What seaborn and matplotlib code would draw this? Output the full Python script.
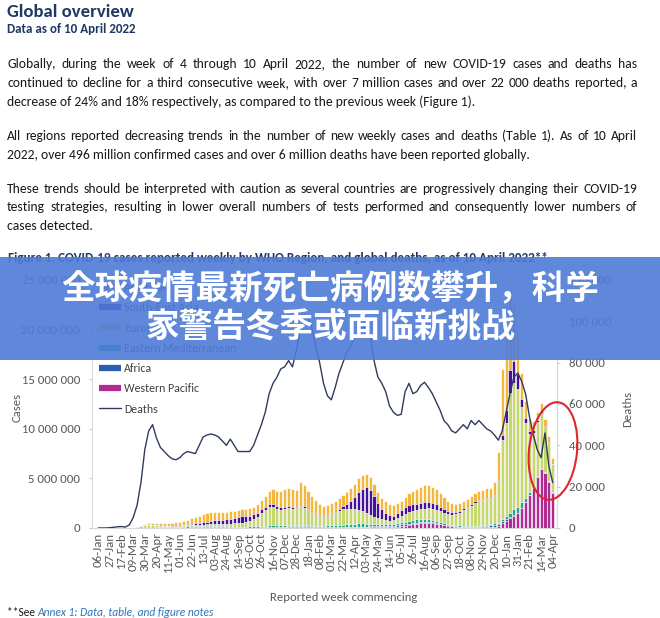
import numpy as np
import pandas as pd
import matplotlib
matplotlib.use("Agg")
import matplotlib.pyplot as plt
import seaborn as sns
from matplotlib.patches import Ellipse, Rectangle
from matplotlib.lines import Line2D
from matplotlib.transforms import IdentityTransform
from matplotlib import font_manager as fm
from matplotlib.ticker import FuncFormatter

# ---------------- data (weekly, 06-Jan-2020 .. 04-Apr-2022), thousands ----------------
week_start = pd.date_range("2020-01-06", "2022-04-04", freq="7D")

tick_labels = ["06-Jan", "27-Jan", "17-Feb", "09-Mar", "30-Mar", "20-Apr", "11-May", "01-Jun",
               "22-Jun", "13-Jul", "03-Aug", "24-Aug", "14-Sep", "05-Oct", "26-Oct", "16-Nov",
               "07-Dec", "28-Dec", "18-Jan", "08-Feb", "01-Mar", "22-Mar", "12-Apr", "03-May",
               "24-May", "14-Jun", "05-Jul", "26-Jul", "16-Aug", "06-Sep", "27-Sep", "18-Oct",
               "08-Nov", "29-Nov", "20-Dec", "10-Jan", "31-Jan", "21-Feb", "14-Mar", "04-Apr"]

americas = [0, 0, 0, 0, 0, 0, 0, 0, 0.1, 1,
            8, 40, 120, 190, 210, 220, 220, 220, 230, 260,
            300, 330, 360, 450, 560, 650, 720, 800, 850, 850,
            820, 820, 780, 740, 720, 700, 700, 720, 720, 740,
            780, 840, 950, 1100, 1350, 1500, 1500, 1600, 1800, 1900,
            1800, 1750, 2300, 2200, 1900, 1600, 1400, 1150, 1000, 1000,
            1000, 1050, 1100, 1200, 1250, 1300, 1350, 1400, 1350, 1300,
            1250, 1200, 1150, 1100, 1150, 1150, 1050, 1000, 950, 1000,
            1150, 1350, 1500, 1650, 1700, 1700, 1650, 1550, 1400, 1250,
            1050, 900, 800, 750, 750, 750, 800, 850, 850, 900,
            1000, 1050, 1300, 2800, 6600, 7500, 7600, 6000, 4200, 2600,
            1700, 1200, 950, 850, 800, 700, 650, 600]

south_east_asia = [0, 0, 0, 0, 0, 0, 0, 0, 0.1, 0.3,
                   0.8, 2, 4, 6, 9, 12, 16, 22, 30, 38,
                   50, 65, 80, 100, 120, 150, 180, 230, 290, 350,
                   400, 440, 460, 490, 530, 590, 640, 650, 590, 540,
                   490, 420, 370, 340, 320, 300, 300, 280, 250, 210,
                   180, 165, 150, 130, 115, 105, 100, 95, 100, 115,
                   125, 145, 190, 290, 450, 750, 1200, 1750, 2250, 2600,
                   2550, 2100, 1500, 1100, 750, 520, 450, 500, 600, 700,
                   750, 720, 680, 650, 620, 600, 580, 520, 450, 380,
                   320, 260, 210, 180, 160, 140, 130, 120, 110, 105,
                   100, 95, 100, 150, 500, 1300, 2300, 2200, 1500, 800,
                   500, 350, 250, 180, 130, 100, 80, 60]

europe = [0, 0, 0, 0, 0, 0, 0, 1, 5, 25,
          80, 170, 230, 240, 230, 210, 180, 160, 140, 130,
          125, 120, 115, 120, 125, 130, 130, 135, 145, 160,
          170, 190, 210, 240, 270, 310, 360, 400, 450, 560,
          720, 950, 1300, 1600, 1850, 1800, 1650, 1500, 1550, 1650,
          1600, 1550, 1850, 1700, 1450, 1250, 1100, 950, 900, 950,
          1100, 1200, 1400, 1550, 1600, 1550, 1500, 1400, 1250, 1100,
          900, 750, 600, 500, 420, 380, 380, 480, 620, 750,
          850, 870, 900, 950, 1050, 1100, 1100, 1100, 1050, 1000,
          950, 1000, 1100, 1300, 1600, 1800, 2050, 2350, 2500, 2600,
          2600, 2500, 2800, 4200, 8000, 9400, 12100, 12750, 11900, 9600,
          7500, 5800, 5350, 5400, 5600, 4600, 3850, 2850]

eastern_mediterranean = [0, 0, 0, 0, 0, 0, 0, 0, 2, 5,
                         10, 18, 25, 30, 35, 40, 45, 50, 60, 75,
                         90, 100, 115, 125, 125, 120, 115, 110, 105, 95,
                         90, 85, 80, 80, 80, 85, 90, 95, 100, 110,
                         120, 130, 140, 160, 185, 210, 215, 200, 180, 160,
                         145, 135, 130, 130, 125, 120, 120, 130, 145, 165,
                         180, 195, 215, 240, 260, 290, 320, 330, 320, 290,
                         250, 210, 190, 175, 165, 165, 175, 190, 210, 240,
                         280, 320, 340, 340, 320, 300, 280, 250, 220, 190,
                         160, 140, 120, 110, 105, 100, 95, 90, 90, 90,
                         95, 100, 110, 140, 250, 330, 430, 550, 600, 550,
                         430, 320, 230, 170, 130, 110, 100, 80]

africa = [0, 0, 0, 0, 0, 0, 0, 0, 0, 0.1,
          0.5, 1.5, 3, 4, 5, 6, 8, 10, 12, 15,
          20, 25, 30, 40, 50, 60, 75, 85, 95, 95,
          90, 80, 70, 55, 45, 40, 35, 30, 28, 28,
          30, 32, 35, 38, 40, 45, 55, 65, 80, 95,
          110, 125, 140, 145, 125, 100, 80, 65, 55, 50,
          45, 42, 40, 40, 38, 35, 32, 30, 28, 28,
          30, 35, 42, 55, 70, 95, 130, 160, 175, 170,
          150, 130, 115, 105, 95, 85, 75, 60, 45, 35,
          28, 22, 18, 15, 14, 13, 13, 14, 20, 50,
          110, 180, 230, 220, 160, 110, 80, 65, 50, 40,
          30, 22, 18, 15, 12, 10, 9, 8]

western_pacific = [0, 0, 2, 12, 25, 32, 10, 4, 3, 3,
                   5, 6, 8, 9, 8, 6, 4, 3, 3, 3,
                   4, 4, 4, 5, 6, 7, 9, 12, 18, 25,
                   30, 28, 25, 22, 20, 20, 18, 18, 17, 17,
                   17, 18, 20, 22, 28, 36, 45, 50, 55, 62,
                   65, 65, 70, 72, 65, 55, 45, 40, 36, 38,
                   42, 45, 50, 52, 58, 68, 80, 95, 110, 120,
                   130, 140, 145, 135, 120, 115, 120, 150, 190, 230,
                   300, 360, 420, 470, 500, 500, 480, 440, 380, 300,
                   240, 190, 150, 130, 120, 110, 110, 115, 120, 120,
                   115, 110, 120, 160, 500, 750, 1000, 1250, 1500, 2000,
                   2600, 3300, 4000, 5100, 5900, 5500, 4600, 3500]

deaths = [0, 0, 0.02, 0.15, 0.35, 0.6, 0.7, 0.45, 1.5, 5,
          11, 22, 38, 47, 50, 43.5, 39, 37, 35, 33.5,
          33, 34, 36, 37, 36.5, 36, 40, 44, 45, 45.5,
          45, 44, 42, 40, 43, 40, 37, 37, 37, 37,
          40, 45, 50, 56, 65, 70, 73, 77, 78, 81,
          78, 86, 95, 100, 102, 97, 88, 80, 70, 64,
          62, 68, 75, 80, 85, 88, 92, 95, 97, 97,
          93, 81, 73, 70, 66, 59, 56, 54.5, 55, 66,
          70, 65, 66, 69, 70.5, 68, 65, 61, 57, 52,
          50, 47, 46, 48, 50, 48, 52, 50, 52, 50,
          48, 47, 45, 42.5, 47, 56, 65, 73, 75, 71,
          65, 54, 45, 38, 34, 46, 30, 22]

regions = ["Americas", "South-East Asia", "Europe", "Eastern Mediterranean", "Africa", "Western Pacific"]
colors = {"Americas": "#F4B73E", "South-East Asia": "#44129A", "Europe": "#C5D86B",
          "Eastern Mediterranean": "#25A38C", "Africa": "#2B5CB6", "Western Pacific": "#B02A91"}
death_color = "#2F3B5E"

df = pd.DataFrame({"week": week_start.strftime("%Y-%m-%d"),
                   "Americas": np.array(americas) * 1000,
                   "South-East Asia": np.array(south_east_asia) * 1000,
                   "Europe": np.array(europe) * 1000,
                   "Eastern Mediterranean": np.array(eastern_mediterranean) * 1000,
                   "Africa": np.array(africa) * 1000,
                   "Western Pacific": np.array(western_pacific) * 1000,
                   "Deaths": np.array(deaths) * 1000})
df["pos"] = np.arange(len(df))
stack_order = ["Western Pacific", "Africa", "Eastern Mediterranean", "Europe", "South-East Asia", "Americas"]
cum = 0
for r in stack_order:
    cum = cum + df[r]
    df["cum_" + r] = cum

# ---------------- styling / fonts ----------------
sns.set_style("white")
avail = {f.name for f in fm.fontManager.ttflist}


def pick(names):
    for n in names:
        if n in avail:
            return n
    return "DejaVu Sans"


FONT = pick(["Carlito", "Lato", "Open Sans", "DejaVu Sans"])
CJK = pick(["Noto Sans CJK SC", "Noto Sans CJK JP"])
plt.rcParams["font.family"] = [FONT, "DejaVu Sans"]

W, H = 660, 618
fig = plt.figure(figsize=(W / 100, H / 100), dpi=100)
fig.patch.set_facecolor("white")
renderer = fig.canvas.get_renderer()


def px(x, y):
    return x / W, 1 - y / H


def text_width(s, size, **kw):
    t = fig.text(0, 0, s, fontsize=size, **kw)
    w = t.get_window_extent(renderer).width
    t.remove()
    return w


def fit_size(s, target, **kw):
    return 10 * target / text_width(s, 10, **kw)


# ---------------- header text ----------------
navy = "#1F3864"
fig.text(*px(7, 17), "Global overview", fontsize=fit_size("Global overview", 126, weight="bold"),
         weight="bold", color=navy, va="baseline")
fig.text(*px(7, 33), "Data as of 10 April 2022",
         fontsize=fit_size("Data as of 10 April 2022", 128, weight="bold"),
         weight="bold", color=navy, va="baseline")

paragraphs = [
    (["Globally, during the week of 4 through 10 April 2022, the number of new COVID-19 cases and deaths has",
      "continued to decline for a third consecutive week, with over 7 million cases and over 22 000 deaths reported, a",
      "decrease of 24% and 18% respectively, as compared to the previous week (Figure 1)."], [68, 87, 106]),
    (["All regions reported decreasing trends in the number of new weekly cases and deaths (Table 1). As of 10 April",
      "2022, over 496 million confirmed cases and over 6 million deaths have been reported globally."], [140, 159]),
    (["These trends should be interpreted with caution as several countries are progressively changing their COVID-19",
      "testing strategies, resulting in lower overall numbers of tests performed and consequently lower numbers of",
      "cases detected."], [193, 211, 230]),
]
X0, X1 = 7, 637
just_lines = [l for lines, _ in paragraphs for l in lines[:-1]]
body_size = min(10 * (X1 - X0) * 0.985 / text_width(l, 10) for l in just_lines)
body_color = "#1A1A1A"

for lines, ys in paragraphs:
    for k, (line, y) in enumerate(zip(lines, ys)):
        if k == len(lines) - 1:
            fig.text(*px(X0, y), line, fontsize=body_size, color=body_color, va="baseline")
        else:
            words = line.split(" ")
            ws = [text_width(w, body_size) for w in words]
            gap = (X1 - X0 - sum(ws)) / (len(words) - 1)
            x = X0
            for w, wd in zip(words, ws):
                fig.text(*px(x, y), w, fontsize=body_size, color=body_color, va="baseline")
                x += wd + gap

cap = "Figure 1. COVID-19 cases reported weekly by WHO Region, and global deaths, as of 10 April 2022**"
fig.text(*px(8, 262), cap, fontsize=fit_size(cap, 537, weight="bold"), weight="bold", color=navy,
         va="baseline")

# ---------------- chart ----------------
ax = fig.add_axes([92 / W, (H - 528) / H, 465 / W, 248 / H])
draw_order = ["Americas", "South-East Asia", "Europe", "Eastern Mediterranean", "Africa", "Western Pacific"]
for r in draw_order:
    sns.barplot(data=df, x="week", y="cum_" + r, color=colors[r], saturation=1, width=0.8,
                edgecolor="white", linewidth=0.45, errorbar=None, ax=ax)

tick_size = fit_size("15 000 000", 58)
grey = "#595959"
ax.set_ylim(0, 25e6)
ax.set_yticks(np.arange(0, 25e6 + 1, 5e6))
ax.yaxis.set_major_formatter(FuncFormatter(lambda v, p: f"{int(v):,}".replace(",", " ")))
ax.set_xticks(np.arange(0, len(df), 3))
ax.set_xticklabels(tick_labels, rotation=90)
ax.set_xlabel("")
ax.set_ylabel("")
ax.tick_params(axis="y", length=2.2, width=0.6, color="#BFBFBF", pad=6.3, labelsize=tick_size,
               labelcolor=grey)
ax.tick_params(axis="x", length=0, pad=3.4, labelsize=tick_size, labelcolor=grey)
for s in ["left", "bottom", "right"]:
    ax.spines[s].set_color("#D9D9D9")
    ax.spines[s].set_linewidth(0.8)
ax.spines["top"].set_visible(False)

ax2 = ax.twinx()
sns.lineplot(data=df, x="pos", y="Deaths", color=death_color, linewidth=1.0, ax=ax2)
ax2.set_ylim(0, 120000)
ax2.set_yticks(np.arange(0, 120001, 20000))
ax2.yaxis.set_major_formatter(FuncFormatter(lambda v, p: f"{int(v):,}".replace(",", " ")))
ax2.tick_params(axis="y", length=2.2, width=0.6, color="#BFBFBF", pad=6.3, labelsize=tick_size,
                labelcolor=grey)
ax2.set_ylabel("")
ax2.set_xlabel("")
for s in ["top", "left", "bottom"]:
    ax2.spines[s].set_visible(False)
ax2.spines["right"].set_color("#D9D9D9")
ax2.spines["right"].set_linewidth(0.8)
ax.set_xlim(-1.6, 118.1)

leg_size = fit_size("South-East Asia", 75)
handles = [Line2D([0], [0], color=colors[r], lw=4.5, solid_capstyle="butt") for r in regions]
handles.append(Line2D([0], [0], color=death_color, lw=1.0))
leg_px = leg_size * 100 / 72
ax2.legend(handles, regions + ["Deaths"], loc="upper left", bbox_to_anchor=px(99, 282),
           bbox_transform=fig.transFigure, frameon=False, fontsize=leg_size,
           handlelength=22 / leg_px, handletextpad=3 / leg_px, labelspacing=0.78,
           borderpad=0, borderaxespad=0, labelcolor="#404040")

lab_size = fit_size("Cases", 29)
fig.text(*px(17, 407), "Cases", rotation=90, fontsize=lab_size, color=grey, ha="center", va="center")
fig.text(*px(628, 409), "Deaths", rotation=90, fontsize=lab_size, color=grey, ha="center", va="center")
xl = "Reported week commencing"
fig.text(*px(270, 601), xl, fontsize=fit_size(xl, 147), color=grey, va="baseline")

# footnote
fn_size = fit_size("**See Annex 1: Data, table, and figure notes", 209)
fig.text(*px(7, 616), "**See ", fontsize=fn_size, color="#1A1A1A", va="baseline")
wsee = text_width("**See ", fn_size)
fig.text(*px(7 + wsee, 616), "Annex 1: Data, table, and figure notes", fontsize=fn_size,
         style="italic", color="#2E74B5", va="baseline")

# red ellipse annotation
fig.add_artist(Ellipse((553, H - 451), 48, 98, angle=-6, transform=IdentityTransform(),
                       fill=False, edgecolor="#E0262A", linewidth=1.5, zorder=6))

# overlay banner with headline
fig.add_artist(Rectangle(px(0, 360), 1, 103 / H, transform=fig.transFigure,
                         facecolor="#4E7BD8", alpha=0.9, edgecolor="none", zorder=10))
fig.text(0.5, 1 - 299 / H, "全球疫情最新死亡病例数攀升，科学", fontsize=24.2, family=[CJK, "DejaVu Sans"],
         weight="bold", color="white", ha="center", va="baseline", zorder=11)
fig.text(0.5, 1 - 337 / H, "家警告冬季或面临新挑战", fontsize=24.2, family=[CJK, "DejaVu Sans"],
         weight="bold", color="white", ha="center", va="baseline", zorder=11)

fig.savefig("out.png", dpi=100, facecolor="white")
